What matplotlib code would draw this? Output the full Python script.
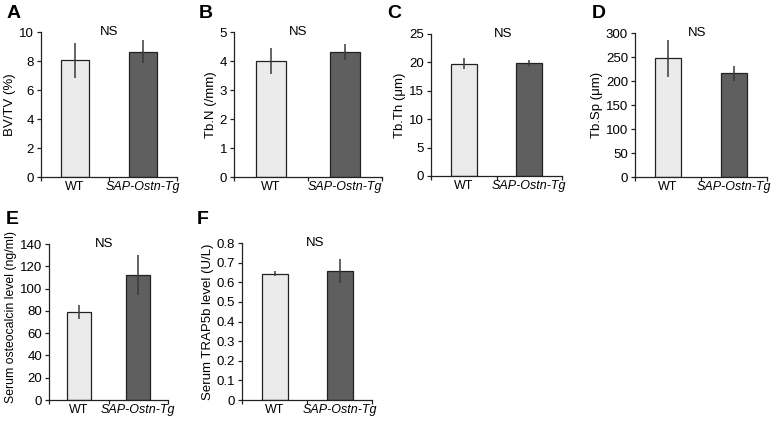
import matplotlib
matplotlib.use("Agg")
import matplotlib.pyplot as plt

plt.rcParams["font.family"] = ["Liberation Sans", "DejaVu Sans"]

groups = ["WT", "SAP-Ostn-Tg"]

# values: mean and error half-width per group
bvtv = [8.05, 8.65]
bvtv_err = [1.2, 0.8]
tbn = [4.0, 4.32]
tbn_err = [0.45, 0.28]
tbth = [19.8, 19.9]
tbth_err = [0.9, 0.6]
tbsp = [247, 216]
tbsp_err = [39, 15]
osteocalcin = [79, 112]
osteocalcin_err = [6.5, 18]
trap5b = [0.643, 0.658]
trap5b_err = [0.012, 0.062]

letters = ["A", "B", "C", "D", "E", "F"]
ylabels = ["BV/TV (%)", "Tb.N (/mm)", "Tb.Th (μm)", "Tb.Sp (μm)",
           "Serum osteocalcin level (ng/ml)", "Serum TRAP5b level (U/L)"]
yticks = [[0, 2, 4, 6, 8, 10],
          [0, 1, 2, 3, 4, 5],
          [0, 5, 10, 15, 20, 25],
          [0, 50, 100, 150, 200, 250, 300],
          [0, 20, 40, 60, 80, 100, 120, 140],
          [0, 0.1, 0.2, 0.3, 0.4, 0.5, 0.6, 0.7, 0.8]]
ytick_labels = [None, None, None, None, None,
                ["0", "0.1", "0.2", "0.3", "0.4", "0.5", "0.6", "0.7", "0.8"]]
means = [bvtv, tbn, tbth, tbsp, osteocalcin, trap5b]
errs = [bvtv_err, tbn_err, tbth_err, tbsp_err, osteocalcin_err, trap5b_err]

W, H = 779, 423
# axes boxes in pixels: left, right, top, bottom
boxes = [(41, 177, 32, 177), (234, 382, 32, 177), (431, 562, 34, 176),
         (635, 767, 33, 177), (49, 168, 244, 400), (242, 372, 243, 400)]
letter_pos = [(7, 13), (199, 13), (387, 13), (592, 13), (6, 219), (197, 219)]
ns_x = [1.0, 0.87, 1.1, 0.94, 0.92, 1.12]
ylabel_y = [0.5, 0.5, 0.5, 0.5, 0.535, 0.5]
ylabel_fs = [9.5, 9.5, 9.5, 9.5, 8.8, 9.5]

fig = plt.figure(figsize=(W / 100, H / 100), dpi=100)
fs = 9.5
for i in range(6):
    l, r, t, b = boxes[i]
    ax = fig.add_axes([l / W, 1 - b / H, (r - l) / W, (b - t) / H])
    ax.bar([0.5, 1.5], means[i], width=0.4, color=["#ebebeb", "#5f5f5f"],
           edgecolor="#222222", linewidth=0.9, zorder=2)
    ax.errorbar([0.5, 1.5], means[i], yerr=errs[i], fmt="none",
                ecolor="#3a3a3a", elinewidth=1.1, capsize=0, zorder=3)
    ymax = yticks[i][-1]
    ax.set_xlim(0, 2)
    ax.set_ylim(0, ymax)
    ax.set_yticks(yticks[i])
    if ytick_labels[i]:
        ax.set_yticklabels(ytick_labels[i])
    ax.set_xticks([0, 1, 2])
    ax.set_xticklabels([])
    ax.set_xticks([0.5, 1.5], minor=True)
    ax.set_xticklabels(groups, minor=True)
    ax.get_xticklabels(minor=True)[1].set_style("italic")
    ax.tick_params(axis="x", which="minor", length=0, labelsize=fs - 0.5, pad=3)
    ax.tick_params(axis="x", which="major", length=3, width=0.9, color="#222222")
    ax.tick_params(axis="y", length=3, width=0.9, color="#222222", labelsize=fs, pad=2)
    for s in ["top", "right"]:
        ax.spines[s].set_visible(False)
    for s in ["left", "bottom"]:
        ax.spines[s].set_linewidth(0.9)
        ax.spines[s].set_color("#222222")
    ax.set_ylabel(ylabels[i], fontsize=ylabel_fs[i], labelpad=2)
    ax.yaxis.label.set_y(ylabel_y[i])
    ax.text(ns_x[i], ymax, "NS", ha="center", va="center", fontsize=fs)
    lx, ly = letter_pos[i]
    fig.text(lx / W, 1 - ly / H, letters[i], fontsize=14, fontweight="heavy",
             ha="left", va="center")

fig.savefig("out.png", dpi=100, facecolor="white")
